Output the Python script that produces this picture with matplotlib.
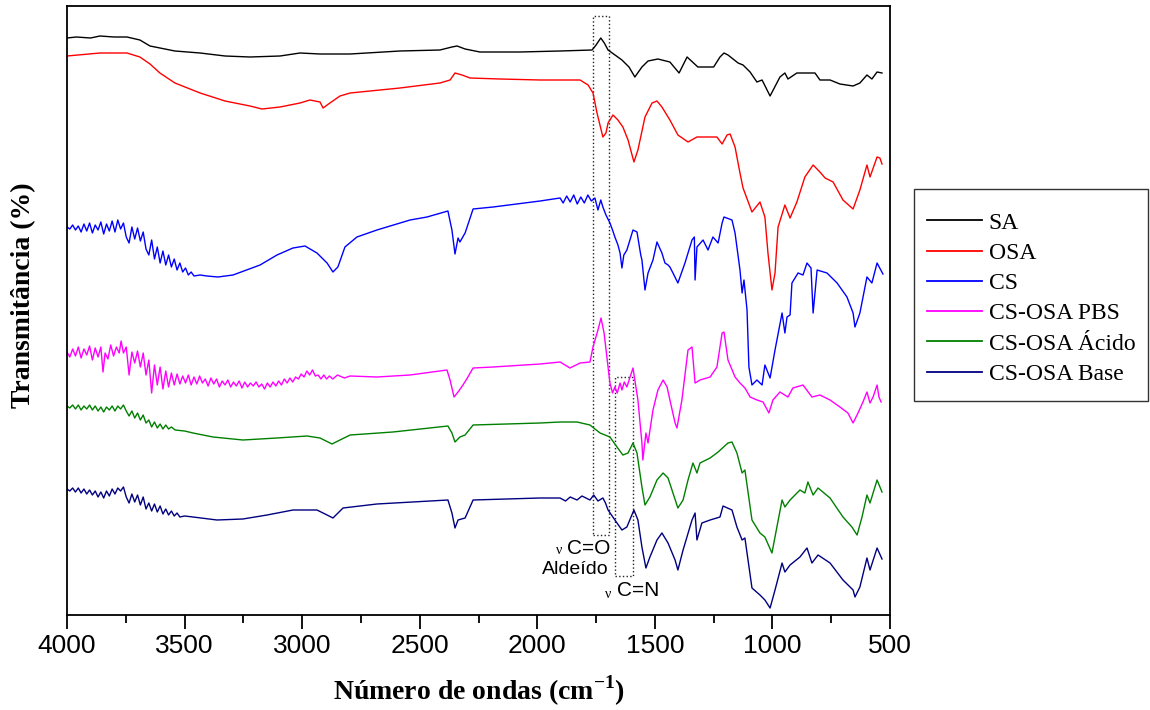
import matplotlib
matplotlib.use("Agg")
import matplotlib.pyplot as plt
from matplotlib.patches import Rectangle
from matplotlib.ticker import MultipleLocator

# ---------------- data (wavenumber cm-1, transmittance a.u.) ----------------
sa_wn = [4000, 3960, 3900, 3860, 3800, 3745, 3690, 3647, 3541, 3434, 3328, 3222, 3094, 3009,
         2924, 2796, 2584, 2414, 2363, 2341, 2307, 2244, 2074, 1903, 1767, 1750, 1730, 1715,
         1699, 1640, 1610, 1585, 1555, 1529, 1487, 1436, 1397, 1363, 1317, 1250, 1223, 1206,
         1189, 1146, 1125, 1095, 1066, 1044, 1010, 968, 947, 934, 896, 849, 819, 798, 755,
         713, 657, 628, 598, 577, 555, 534]
sa_t = [577, 578, 577, 579, 578, 578, 575, 569, 564, 562, 559, 558, 559, 562,
        561, 561, 564, 565, 568, 569, 566, 563, 563, 564, 565, 570, 577, 572,
        565, 555, 548, 538, 548, 554, 556, 553, 542, 558, 548, 548, 558, 562,
        560, 552, 550, 543, 533, 535, 519, 538, 542, 536, 542, 542, 542, 535, 535,
        531, 529, 532, 540, 536, 543, 542]

osa_wn = [4000, 3860, 3745, 3690, 3647, 3605, 3541, 3434, 3328, 3222, 3171, 3094, 3009, 2967,
          2924, 2911, 2882, 2839, 2796, 2584, 2414, 2371, 2350, 2320, 2286, 2159, 1988, 1903,
          1818, 1784, 1763, 1746, 1721, 1708, 1699, 1678, 1657, 1636, 1614, 1589, 1572, 1542,
          1512, 1491, 1470, 1436, 1402, 1359, 1321, 1278, 1236, 1214, 1193, 1180, 1159, 1138,
          1125, 1087, 1053, 1032, 1019, 1002, 989, 976, 947, 925, 896, 862, 827, 798, 776,
          742, 700, 657, 628, 598, 585, 555, 543, 534]
osa_t = [559, 562, 562, 558, 551, 542, 532, 522, 514, 509, 506, 508, 512, 515,
         513, 507, 512, 519, 522, 527, 532, 535, 542, 540, 537, 536, 535, 535,
         535, 530, 522, 502, 478, 482, 492, 500, 495, 488, 475, 453, 465, 498,
         512, 514, 508, 495, 480, 473, 478, 478, 478, 471, 480, 481, 468, 442,
         427, 403, 413, 398, 362, 325, 342, 388, 410, 397, 413, 438, 450, 443, 437,
         433, 415, 406, 425, 450, 438, 458, 457, 451]

cs_wn = [4000, 3988, 3976, 3964, 3952, 3940, 3928, 3916, 3904, 3892, 3880, 3868, 3856, 3844,
         3832, 3820, 3808, 3796, 3784, 3772, 3760, 3748, 3736, 3724, 3712, 3700, 3688, 3676,
         3664, 3652, 3640, 3628, 3616, 3604, 3592, 3580, 3568, 3556, 3544, 3532, 3520, 3508,
         3496, 3484, 3472, 3460, 3434, 3405, 3358, 3294, 3179,
         3107, 3039, 2988, 2937, 2894, 2869, 2848, 2818, 2767, 2682, 2541, 2469, 2380, 2363,
         2350, 2337, 2329, 2307, 2273, 2188, 1988, 1903, 1890, 1875, 1860, 1845, 1830, 1815,
         1800, 1785, 1770, 1755, 1742, 1730, 1721, 1708, 1691, 1680, 1670, 1657, 1648, 1640,
         1632, 1619, 1593, 1576, 1560, 1555, 1542, 1529, 1508, 1491, 1470, 1457, 1444, 1436,
         1423, 1402, 1372, 1342, 1332, 1329, 1321, 1295, 1274, 1253, 1231, 1214, 1206, 1172,
         1159, 1138, 1129, 1121, 1108, 1100, 1087, 1066, 1044, 1032, 1010, 989, 959, 947, 938,
         925, 917, 891, 870, 853, 836, 827, 810, 768, 725, 683, 657, 649, 628, 598, 577, 555,
         530]
cs_t = [388, 386, 390, 385, 389, 383, 391, 384, 392, 382, 390, 385, 393, 381,
        391, 384, 394, 383, 395, 386, 392, 378, 372, 388, 376, 387, 374, 383,
        366, 360, 375, 356, 368, 352, 364, 350, 360, 348, 356, 345, 352, 343,
        347, 340, 343, 339, 340, 339, 338, 340, 350,
        360, 367, 369, 362, 352, 343, 348, 368, 378, 385, 395, 398, 404, 385,
        361, 377, 373, 382, 406, 408, 414, 417, 412, 419, 413, 420, 411, 418,
        412, 420, 414, 417, 405, 415, 408, 400, 392, 385, 378, 370, 362, 347,
        360, 365, 385, 383, 360, 355, 325, 342, 355, 373, 362, 352, 350, 348,
        342, 332, 352, 375, 378, 335, 368, 375, 365, 378, 372, 392, 398, 395,
        382, 345, 322, 335, 305, 248, 230, 235, 230, 250, 237, 265, 302, 282, 298,
        300, 332, 342, 340, 352, 347, 302, 345, 342, 332, 318, 302, 288, 302, 338, 332, 352,
        341]

pbs_wn = [4000, 3988, 3976, 3964, 3952, 3940, 3928, 3916, 3904, 3892, 3880, 3868, 3856, 3847,
          3838, 3826, 3814, 3802, 3790, 3778, 3770, 3760, 3748, 3736, 3724, 3712, 3700, 3688,
          3676, 3664, 3652, 3640, 3628, 3616, 3604, 3592, 3580, 3568, 3556, 3544, 3532, 3520,
          3508, 3496, 3484, 3472, 3460, 3448, 3436, 3424, 3412, 3400, 3388, 3376, 3364, 3352,
          3340, 3328, 3316, 3304, 3292, 3280, 3268, 3256, 3244, 3232, 3220, 3208, 3196, 3184,
          3172, 3160, 3148, 3136, 3124, 3112, 3100, 3088, 3076, 3064, 3052, 3040, 3028, 3016,
          3004, 2992, 2980, 2968, 2956, 2944, 2932, 2920, 2908, 2896, 2884, 2870, 2850, 2820,
          2796, 2682, 2541, 2384, 2371, 2354, 2337, 2316, 2295, 2273, 2188, 1988, 1903, 1861,
          1818, 1776, 1763, 1742, 1729, 1716, 1704, 1691, 1680, 1670, 1660, 1648, 1640, 1630,
          1619, 1593, 1572, 1555, 1551, 1538, 1529, 1508, 1487, 1465, 1448, 1436, 1414, 1406,
          1385, 1359, 1342, 1329, 1308, 1265, 1236, 1214, 1206, 1189, 1159, 1138, 1117, 1095,
          1066, 1040, 1015, 998, 968, 934, 913, 870, 832, 798, 755, 713, 679, 657, 636, 615,
          598, 585, 572, 555, 547, 538]
pbs_t = [263, 258, 266, 259, 268, 257, 266, 260, 269, 255, 267, 258, 268, 243,
         262, 256, 270, 259, 268, 262, 274, 262, 268, 240, 263, 252, 264, 248,
         262, 240, 255, 222, 250, 230, 248, 226, 244, 228, 242, 230, 241, 231,
         239, 232, 240, 230, 238, 231, 239, 232, 236, 229, 237, 231, 236, 228,
         234, 230, 235, 228, 233, 229, 234, 227, 233, 228, 232, 229, 233, 228,
         231, 226, 232, 228, 233, 229, 234, 230, 236, 232, 237, 233, 238, 236,
         241, 238, 244, 240, 245, 239, 240, 236, 240, 236, 239, 236, 240, 237,
         239, 238, 240, 245, 235, 218, 223, 230, 238, 247, 248, 251, 253, 247,
         252, 253, 268, 285, 297, 282, 258, 232, 222, 228, 222, 232, 225, 233,
         228, 247, 215, 172, 155, 182, 172, 205, 225, 235, 228, 215, 192, 187,
         215, 265, 268, 232, 235, 238, 248, 282, 283, 255, 238, 232, 227, 218,
         215, 213, 202, 215, 223, 218, 227, 230, 218, 220, 215, 208, 202, 192, 202, 213,
         223, 212, 218, 230, 218, 213]

acido_wn = [4000, 3988, 3976, 3964, 3952, 3940, 3928, 3916, 3904, 3892, 3880, 3868, 3856, 3844,
            3832, 3820, 3808, 3796, 3784, 3772, 3760, 3748, 3736, 3724, 3712, 3700, 3688, 3676,
            3664, 3652, 3640, 3628, 3616, 3604, 3592, 3580, 3568, 3556, 3540, 3500, 3464, 3379,
            3252, 3107, 2979, 2924, 2873,
            2839, 2796, 2614, 2380, 2363, 2350, 2329, 2307, 2273, 1988, 1903, 1831, 1776, 1733,
            1691, 1661, 1636, 1614, 1593, 1576, 1555, 1542, 1521, 1491, 1465, 1444, 1423, 1402,
            1380, 1359, 1338, 1321, 1308, 1265, 1231, 1189, 1172, 1151, 1129, 1117, 1087, 1053,
            1032, 1002, 981, 959, 947, 925, 883, 862, 849, 827, 806, 755, 700, 662, 640, 619,
            598, 585, 555, 534]
acido_t = [209, 207, 210, 206, 210, 205, 209, 206, 210, 205, 209, 204, 208, 203,
           208, 205, 209, 204, 209, 206, 210, 204, 199, 204, 197, 202, 195, 200,
           192, 195, 188, 193, 187, 191, 186, 190, 186, 188, 185, 184, 182, 178,
           175, 177, 179, 177, 171,
           175, 180, 183, 189, 182, 173, 178, 180, 190, 192, 193, 193, 190, 182,
           178, 168, 160, 162, 172, 162, 128, 110, 118, 135, 142, 137, 122, 107,
           115, 135, 152, 142, 152, 157, 163, 172, 173, 162, 142, 145, 95, 82,
           78, 62, 88, 115, 108, 115, 125, 122, 133, 120, 127, 117, 98, 88, 80, 98,
           120, 112, 135, 123]

base_wn = [4000, 3988, 3976, 3964, 3952, 3940, 3928, 3916, 3904, 3892, 3880, 3868, 3856, 3844,
           3832, 3820, 3808, 3796, 3784, 3772, 3760, 3748, 3736, 3724, 3712, 3700, 3688, 3676,
           3664, 3652, 3640, 3628, 3616, 3604, 3592, 3580, 3568, 3556, 3544, 3532, 3520, 3500,
           3464, 3362, 3252, 3149, 3039, 2937, 2894, 2869, 2826, 2682, 2380, 2363, 2350, 2337,
           2307, 2273, 1988, 1903, 1880, 1860, 1831, 1810, 1776, 1760, 1742, 1721, 1710, 1699,
           1670, 1640, 1619, 1589, 1572, 1555, 1538, 1521, 1491, 1470, 1444, 1414, 1402, 1380,
           1342, 1329, 1321, 1300, 1265, 1223, 1210, 1172, 1151, 1129, 1117, 1087, 1053, 1032,
           1010, 989, 959, 947, 925, 883, 853, 832, 806, 755, 700, 657, 649, 628, 598, 585, 555,
           534]
base_t = [126, 124, 127, 123, 127, 122, 126, 121, 125, 120, 124, 118, 123, 117,
          124, 119, 126, 121, 127, 124, 128, 118, 112, 121, 113, 120, 110, 118,
          106, 112, 104, 111, 103, 109, 101, 106, 100, 104, 99, 102, 98, 99,
          98, 95, 96, 100, 105, 105, 100, 97, 107, 111, 115, 102, 87, 95,
          97, 115, 117, 117, 114, 118, 115, 119, 115, 120, 114, 117, 112, 105,
          95, 85, 88, 105, 95, 68, 47, 58, 75, 82, 72, 55, 45, 65,
          95, 102, 75, 92, 95, 98, 109, 105, 88, 75, 77, 27, 20, 15,
          7, 25, 52, 43, 50, 58, 67, 52, 60, 52, 35, 25, 18, 28, 57, 45, 67,
          56]

labels = ["SA", "OSA", "CS", "CS-OSA PBS", "CS-OSA Ácido", "CS-OSA Base"]
colors = ["#000000", "#ff0000", "#0000ff", "#ff00ff", "#008000", "#000080"]

# annotation boxes (wavenumber span, transmittance span)
box_co = (1763, 1695, 80, 599)
box_cn = (1670, 1593, 39, 238)

W, H = 1150, 710

# ---------------- figure ----------------
fig = plt.figure(figsize=(W / 100, H / 100), dpi=100)
ax = fig.add_axes([67 / W, 1 - 615 / H, (890 - 67) / W, (615 - 6) / H])

series = [(sa_wn, sa_t), (osa_wn, osa_t), (cs_wn, cs_t), (pbs_wn, pbs_t),
          (acido_wn, acido_t), (base_wn, base_t)]
for (x, y), lab, c in zip(series, labels, colors):
    ax.plot(x, y, color=c, lw=1.0, label=lab)

ax.set_xlim(4000, 500)
ax.set_ylim(0, 609)
ax.xaxis.set_major_locator(MultipleLocator(500))
ax.xaxis.set_minor_locator(MultipleLocator(250))
ax.tick_params(axis="x", which="major", direction="out", length=10, width=1.3, pad=4,
               labelsize=19)
ax.tick_params(axis="x", which="minor", direction="out", length=6, width=1.3)
ax.tick_params(axis="y", left=False, labelleft=False)
for lab in ax.get_xticklabels():
    lab.set_fontfamily("Liberation Sans")
for s in ax.spines.values():
    s.set_linewidth(1.3)

ax.set_xlabel("Número de ondas (cm$^{\\mathregular{-1}}$)", fontsize=20, fontweight="bold",
              family="Liberation Serif", labelpad=11)
ax.set_ylabel("Transmitância (%)", fontsize=20, fontweight="bold",
              family="Liberation Serif")
ax.yaxis.set_label_coords((36 - 67) / 823, (615 - 295) / 609)

for (x0, x1, y0, y1) in (box_co, box_cn):
    ax.add_patch(Rectangle((x0, y0), x1 - x0, y1 - y0, fill=False, ls=":", lw=1.0,
                           ec="#222222"))

ax.text(1691, 67, "C=O", ha="right", va="center", fontsize=15, family="Liberation Sans")
ax.text(1905, 64, "ν", ha="center", va="center", fontsize=10, family="Liberation Serif")
ax.text(1695, 46, "Aldeído", ha="right", va="center", fontsize=14, family="Liberation Sans")
ax.text(1661, 24, "C=N", ha="left", va="center", fontsize=15, family="Liberation Sans")
ax.text(1700, 21, "ν", ha="center", va="center", fontsize=10, family="Liberation Serif")

# legend (frame drawn separately to match the reference box)
fig.patches.append(Rectangle((914 / W, 1 - 401 / H), (1148 - 914) / W, (401 - 189) / H,
                             transform=fig.transFigure, fill=False, ec="#333333", lw=1.0))
leg = fig.legend(loc="upper left", bbox_to_anchor=(927 / W, 1 - 212 / H),
                 prop={"family": "Liberation Serif", "size": 17}, frameon=False,
                 handlelength=2.35, handletextpad=0.27, labelspacing=0.37, borderpad=0,
                 borderaxespad=0)
for h in leg.get_lines():
    h.set_linewidth(1.3)

fig.savefig("out.png", dpi=100)
